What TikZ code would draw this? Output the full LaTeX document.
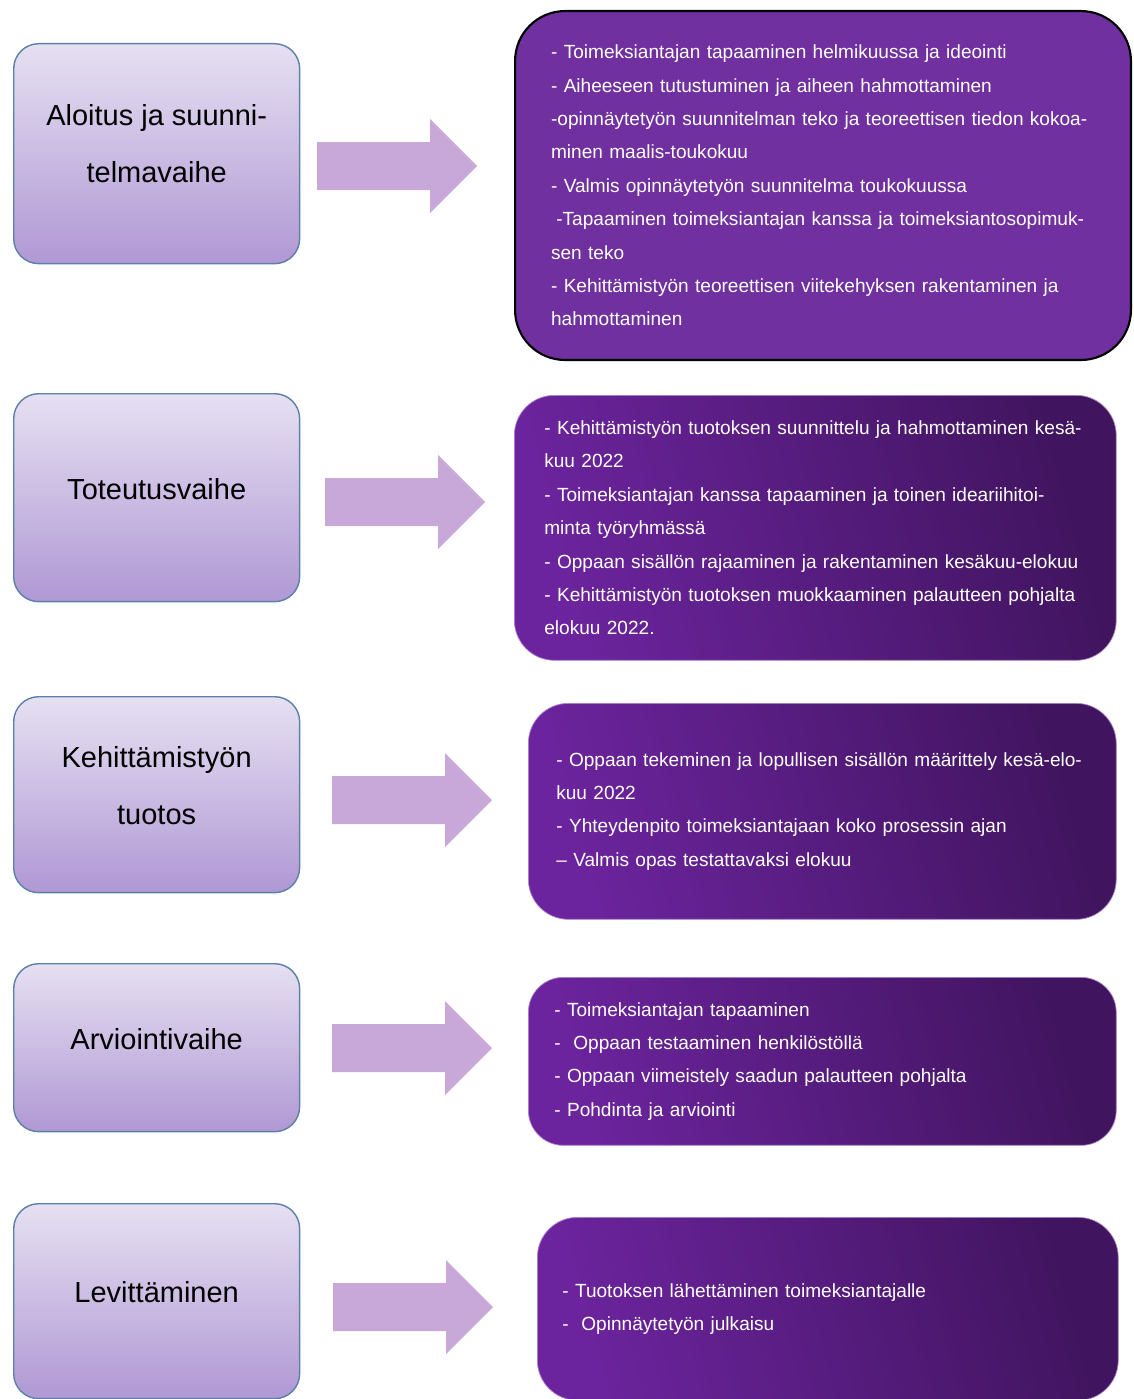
\documentclass[tikz,border=0pt]{standalone}
\usepackage{fontspec}
\setmainfont{Liberation Sans}
\usetikzlibrary{positioning}

\definecolor{phasetop}{RGB}{230,224,242}
\definecolor{phasebot}{RGB}{176,152,212}
\definecolor{phaseline}{RGB}{92,128,168}
\definecolor{arrowfill}{RGB}{200,168,216}
\definecolor{taskpurple}{RGB}{112,48,160}
\definecolor{tasklight}{RGB}{108,36,158}
\definecolor{taskdark}{RGB}{64,20,94}

\begin{document}
\begin{tikzpicture}[x=0.02cm,y=-0.02cm,
 phase/.style={draw=phaseline,line width=0.8pt,rounded corners=0.5cm,top color=phasetop,bottom color=phasebot,minimum width=5.72cm,anchor=north west},
 phasetxt/.style={align=center,font=\fontsize{16.5}{32.4}\selectfont},
 task/.style={rounded corners=0.8cm,text=white,align=left,inner xsep=0pt,font=\fontsize{10.85}{19}\selectfont,anchor=north west,left color=tasklight,right color=taskdark,shading angle=105,draw=tasklight!55!white,line width=0.4pt},
 blockarrow/.style={fill=arrowfill}]
\useasboundingbox (0,0) rectangle (1133,1399);
\clip (0,0) rectangle (1133,1399);

% vaiheet
\node[phase,minimum height=4.40cm] (p1) at (13,43) {};
\node[phase,minimum height=4.16cm] (p2) at (13,393) {};
\node[phase,minimum height=3.92cm] (p3) at (13,696) {};
\node[phase,minimum height=3.36cm] (p4) at (13,963) {};
\node[phase,minimum height=3.90cm] (p5) at (13,1203) {};
\node[phasetxt] (p1t) at ([yshift=0.2cm]p1.center) {Aloitus ja suunni-\\telmavaihe};
\node[phasetxt] (p2t) at ([yshift=0.18cm]p2.center) {Toteutusvaihe};
\node[phasetxt] (p3t) at ([yshift=0.18cm]p3.center) {Kehittämistyön\\tuotos};
\node[phasetxt] (p4t) at ([yshift=0.18cm]p4.center) {Arviointivaihe};
\node[phasetxt] (p5t) at ([yshift=0.18cm]p5.center) {Levittäminen};

% nuolet
\foreach \x/\y in {317/166,325/502,332/800,332/1048,333/1307}
  \fill[blockarrow] (\x,\y-24) -- ++(113,0) -- ++(0,-23) -- ++(47,47) -- ++(-47,47) -- ++(0,-23) -- ++(-113,0) -- cycle;

% tehtävät
\node[task,shade=false,fill=taskpurple,draw=black,line width=1.2pt,rounded corners=1cm,minimum width=12.32cm,minimum height=6.98cm,text width=10.88cm] (d1) at (514,10) {- Toimeksiantajan tapaaminen helmikuussa ja ideointi\\- Aiheeseen tutustuminen ja aiheen hahmottaminen\\-opinnäytetyön suunnitelman teko ja teoreettisen tiedon kokoa-\\minen maalis-toukokuu\\- Valmis opinnäytetyön suunnitelma toukokuussa\\\hspace*{3pt}-Tapaaminen toimeksiantajan kanssa ja toimeksiantosopimuk-\\sen teko\\- Kehittämistyön teoreettisen viitekehyksen rakentaminen ja\\hahmottaminen};
\node[task,minimum width=12.04cm,minimum height=5.30cm,text width=10.84cm] (d2) at (514,395) {- Kehittämistyön tuotoksen suunnittelu ja hahmottaminen kesä-\\kuu 2022\\- Toimeksiantajan kanssa tapaaminen ja toinen ideariihitoi-\\minta työryhmässä\\- Oppaan sisällön rajaaminen ja rakentaminen kesäkuu-elokuu\\- Kehittämistyön tuotoksen muokkaaminen palautteen pohjalta\\elokuu 2022.};
\node[task,minimum width=11.76cm,minimum height=4.32cm,text width=10.64cm] (d3) at (528,703) {- Oppaan tekeminen ja lopullisen sisällön määrittely kesä-elo-\\kuu 2022\\- Yhteydenpito toimeksiantajaan koko prosessin ajan\\– Valmis opas testattavaksi elokuu};
\node[task,rounded corners=0.7cm,minimum width=11.76cm,minimum height=3.36cm,text width=10.72cm] (d4) at (528,977) {- Toimeksiantajan tapaaminen\\-\ \ Oppaan testaaminen henkilöstöllä\\- Oppaan viimeistely saadun palautteen pohjalta\\- Pohdinta ja arviointi};
\node[task,minimum width=11.62cm,minimum height=3.66cm,text width=10.62cm] (d5) at (537,1217) {- Tuotoksen lähettäminen toimeksiantajalle\\-\ \ Opinnäytetyön julkaisu};
\end{tikzpicture}
\end{document}
